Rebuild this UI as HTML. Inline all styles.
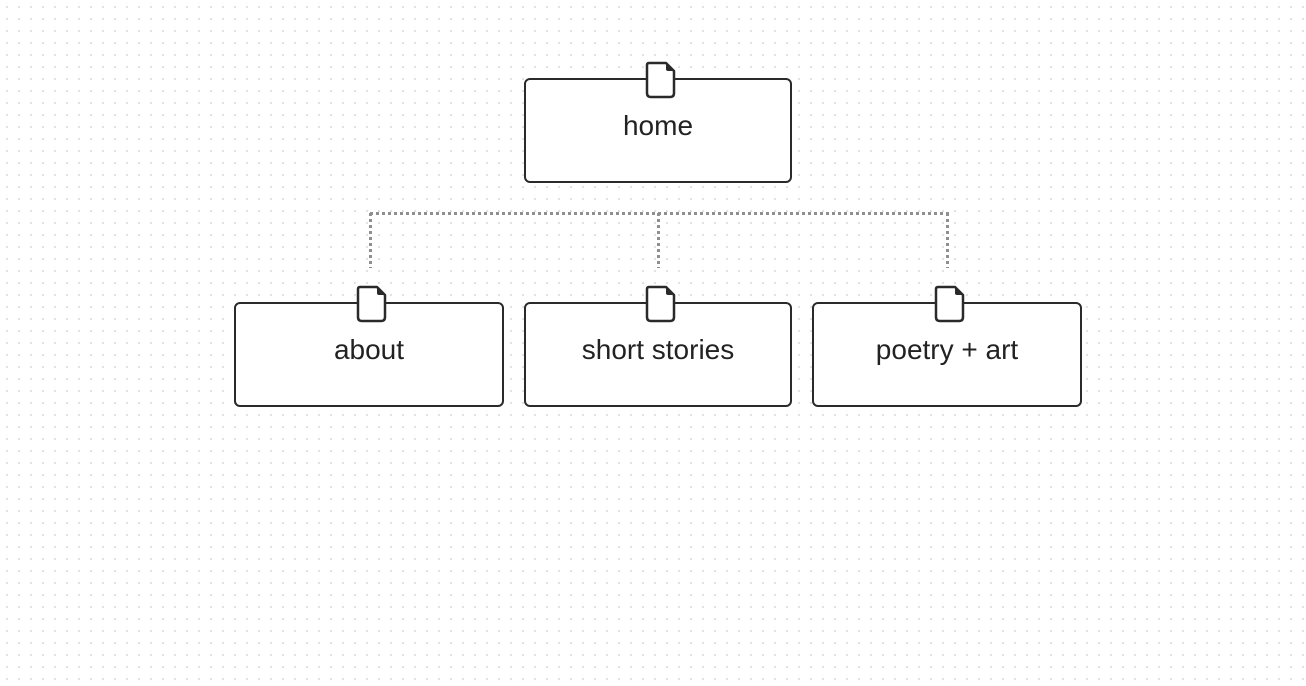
<!DOCTYPE html>
<html><head><style>
html,body{margin:0;padding:0}
body{width:1306px;height:686px;position:relative;overflow:hidden;background-color:#fff;
background-image:radial-gradient(circle,#e0e0e0 1px,transparent 1.3px);background-size:12px 12px;background-position:1px 1px;
font-family:"Liberation Sans",Arial,sans-serif}
.box{position:absolute;box-sizing:border-box;border:2px solid #2a2a2a;border-radius:6px;background:#fff;
display:flex;justify-content:center;padding-top:30px;font-size:28px;color:#222;height:105px}
svg{position:absolute;left:0;top:0}
</style></head><body>
<svg width="1306" height="686">
<g stroke="#8f8f8f" stroke-width="3" stroke-dasharray="3 3" fill="none">
<line x1="370" y1="213.5" x2="949" y2="213.5"/>
<line x1="370.5" y1="213" x2="370.5" y2="268"/>
<line x1="658.5" y1="213" x2="658.5" y2="268"/>
<line x1="947.5" y1="213" x2="947.5" y2="268"/>
</g>
</svg>
<div class="box" style="left:524px;top:78px;width:268px">home</div>
<div class="box" style="left:234px;top:302px;width:270px">about</div>
<div class="box" style="left:524px;top:302px;width:268px">short stories</div>
<div class="box" style="left:812px;top:302px;width:270px">poetry + art</div>
<svg width="1306" height="686">
<g fill="#fff" stroke="#2a2a2a" stroke-width="2.5" stroke-linejoin="round">
<path d="M649 63 H666 L674 71 V93 Q674 97 670 97 H651 Q647 97 647 93 V65 Q647 63 649 63 Z"/>
<path d="M360 287 H377 L385 295 V317 Q385 321 381 321 H362 Q358 321 358 317 V289 Q358 287 360 287 Z"/>
<path d="M649 287 H666 L674 295 V317 Q674 321 670 321 H651 Q647 321 647 317 V289 Q647 287 649 287 Z"/>
<path d="M938 287 H955 L963 295 V317 Q963 321 959 321 H940 Q936 321 936 317 V289 Q936 287 938 287 Z"/>
</g>
<g fill="#2a2a2a"><path d="M666 63 L674 71 H668 Q666 71 666 69Z"/><path d="M377 287 L385 295 H379 Q377 295 377 293Z"/><path d="M666 287 L674 295 H668 Q666 295 666 293Z"/><path d="M955 287 L963 295 H957 Q955 295 955 293Z"/></g>
</svg>
</body></html>
